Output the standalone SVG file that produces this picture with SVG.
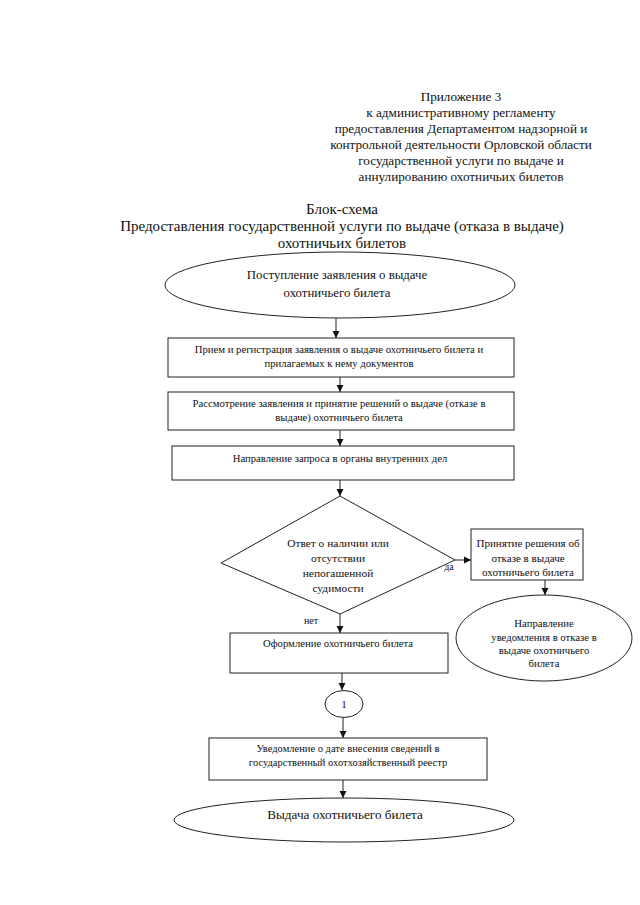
<svg xmlns="http://www.w3.org/2000/svg" width="640" height="905" viewBox="0 0 640 905">
<defs>
<marker id="arr" markerWidth="8" markerHeight="8" refX="7" refY="4" orient="auto" markerUnits="userSpaceOnUse">
<path d="M0,0.5 L7,4 L0,7.5 Z" fill="#111"/>
</marker>
<style>
.t{font-family:"Liberation Serif","Times New Roman",serif;fill:#111;text-anchor:middle}
.s{fill:#fff;stroke:#222;stroke-width:1}
.c{stroke:#222;stroke-width:1;fill:none;marker-end:url(#arr)}
</style>
</defs>
<rect width="640" height="905" fill="#fff"/>
<g id="header" class="t" font-size="13.2">
<text x="461" y="101">Приложение 3</text>
<text x="461" y="117">к административному регламенту</text>
<text x="461" y="133">предоставления Департаментом надзорной и</text>
<text x="461" y="149">контрольной деятельности Орловской области</text>
<text x="461" y="165">государственной услуги по выдаче и</text>
<text x="461" y="181">аннулированию охотничьих билетов</text>
</g>
<g id="title" class="t" font-size="15">
<text x="342" y="214">Блок-схема</text>
<text x="342" y="231">Предоставления государственной услуги по выдаче (отказа в выдаче)</text>
<text x="342" y="248">охотничьих билетов</text>
</g>
<g id="connectors">
<line class="c" x1="336" y1="318" x2="336" y2="338"/>
<line class="c" x1="340" y1="377" x2="340" y2="392"/>
<line class="c" x1="340" y1="430" x2="340" y2="446"/>
<line class="c" x1="340" y1="480" x2="340" y2="496"/>
<line class="c" x1="455" y1="560" x2="471" y2="560"/>
<line class="c" x1="545" y1="580" x2="545" y2="595"/>
<line class="c" x1="340" y1="614" x2="340" y2="633"/>
<line class="c" x1="342" y1="673" x2="342" y2="690"/>
<line class="c" x1="343" y1="717" x2="343" y2="738"/>
<line class="c" x1="343" y1="780" x2="343" y2="798"/>
<text class="t" x="449" y="570" font-size="10">да</text>
<text class="t" x="311" y="624" font-size="10">нет</text>
</g>
<g id="n1">
<ellipse class="s" cx="340" cy="285" rx="175" ry="33"/>
<text class="t" x="337" y="279" font-size="12.8">Поступление заявления о выдаче</text>
<text class="t" x="337" y="297" font-size="12.8">охотничьего билета</text>
</g>
<g id="n2">
<rect class="s" x="168" y="338" width="346" height="39"/>
<text class="t" x="339" y="353" font-size="10.7">Прием и регистрация заявления о выдаче охотничьего билета и</text>
<text class="t" x="339" y="367" font-size="10.7">прилагаемых к нему документов</text>
</g>
<g id="n3">
<rect class="s" x="168" y="392" width="346" height="38"/>
<text class="t" x="339" y="407" font-size="10.7">Рассмотрение заявления и принятие решений о выдаче (отказе в</text>
<text class="t" x="339" y="421" font-size="10.7">выдаче) охотничьего билета</text>
</g>
<g id="n4">
<rect class="s" x="172" y="446" width="342" height="34"/>
<text class="t" x="340" y="462" font-size="10.7">Направление запроса в органы внутренних дел</text>
</g>
<g id="n5">
<polygon class="s" points="340,496 455,560 340,614 221,563"/>
<text class="t" x="338" y="547" font-size="11.4">Ответ о наличии или</text>
<text class="t" x="338" y="562" font-size="11.4">отсутствии</text>
<text class="t" x="338" y="577" font-size="11.4">непогашенной</text>
<text class="t" x="338" y="592" font-size="11.4">судимости</text>
</g>
<g id="n6">
<rect class="s" x="471" y="529" width="112" height="51"/>
<text class="t" x="528" y="547" font-size="11">Принятие решения об</text>
<text class="t" x="528" y="562" font-size="11">отказе в выдаче</text>
<text class="t" x="528" y="576" font-size="11">охотничьего билета</text>
</g>
<g id="n7">
<ellipse class="s" cx="544" cy="638" rx="88" ry="43"/>
<text class="t" x="544" y="627" font-size="10.7">Направление</text>
<text class="t" x="544" y="641" font-size="10.7">уведомления в отказе в</text>
<text class="t" x="544" y="654" font-size="10.7">выдаче охотничьего</text>
<text class="t" x="544" y="667" font-size="10.7">билета</text>
</g>
<g id="n8">
<rect class="s" x="230" y="633" width="218" height="40"/>
<text class="t" x="338" y="647" font-size="10.7">Оформление охотничьего билета</text>
</g>
<g id="n9">
<ellipse class="s" cx="344" cy="704" rx="19" ry="13.5"/>
<text class="t" x="344" y="708" font-size="11">1</text>
</g>
<g id="n10">
<rect class="s" x="209" y="738" width="278" height="42"/>
<text class="t" x="348" y="752" font-size="10.5">Уведомление о дате внесения сведений в</text>
<text class="t" x="348" y="766" font-size="10.5">государственный охотхозяйственный реестр</text>
</g>
<g id="n11">
<ellipse class="s" cx="344" cy="820" rx="170" ry="22"/>
<text class="t" x="345" y="819" font-size="13.2">Выдача охотничьего билета</text>
</g>
</svg>
